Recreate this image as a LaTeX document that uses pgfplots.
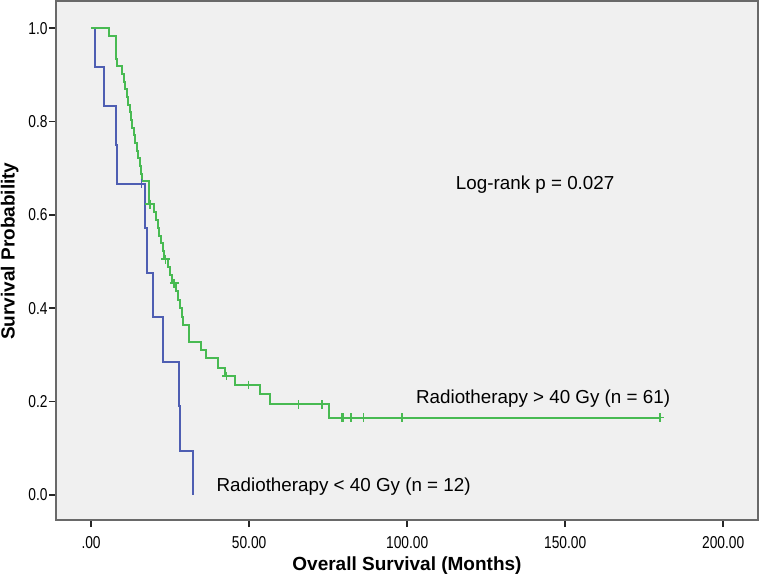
\documentclass[border=0pt]{standalone}
\usepackage{fontspec}
\setmainfont{Liberation Sans}
\newfontfamily\narrowfont[FakeStretch=0.8]{Liberation Sans}
\usepackage{pgfplots}
\pgfplotsset{compat=1.18}
\definecolor{kmblue}{RGB}{78,94,178}
\definecolor{kmgreen}{RGB}{72,186,82}
\definecolor{framegray}{RGB}{105,105,105}
\definecolor{plotbg}{RGB}{240,240,240}
\begin{document}
\begin{tikzpicture}
\path[use as bounding box] (-28pt,-27pt) rectangle (352.5pt,260pt);
\begin{axis}[
  scale only axis,
  width=351pt, height=259.5pt,
  xmin=-11.1, xmax=211, ymin=-0.0535, ymax=1.058,
  axis background/.style={fill=plotbg},
  axis line style={draw=framegray, line width=1pt},
  xtick={0,50,100,150,200},
  xticklabels={.00,50.00,100.00,150.00,200.00},
  ytick={0,0.2,0.4,0.6,0.8,1.0},
  yticklabels={0.0,0.2,0.4,0.6,0.8,1.0},
  tick align=outside,
  xtick pos=bottom, ytick pos=left,
  major tick length=3.5pt,
  tick style={draw=black!85, line width=0.8pt},
  ticklabel style={font=\narrowfont\fontsize{8.6}{10}\selectfont},
  xticklabel style={anchor=center, yshift=-8pt},
  yticklabel style={anchor=east, inner sep=0pt, xshift=-0.5pt},
  xlabel={Overall Survival (Months)},
  ylabel={Survival Probability},
  xlabel style={font=\bfseries\fontsize{9.5}{11}\selectfont, at={(axis description cs:0.5,-0.0886)}, anchor=center},
  ylabel style={font=\bfseries\fontsize{9.5}{11}\selectfont, at={(axis description cs:-0.066,0.518)}, anchor=center, rotate=0},
  clip=false,
]
% Radiotherapy < 40 Gy (n = 12)
\addplot[const plot, color=kmblue, line width=1pt, mark=none] coordinates {
(0,1) (1.3,0.9167) (4.2,0.8333) (7.8,0.75) (8.3,0.6667) (17.1,0.5714)
(17.6,0.4762) (19.5,0.3810) (22.7,0.2857) (27.9,0.1905) (28.2,0.0952)
(32.4,0) (32.4,0)
};
\addplot[only marks, mark=+, mark size=2.2pt, color=kmblue, mark options={line width=0.8pt}] coordinates {
(16.0,0.6667)
};
% Radiotherapy > 40 Gy (n = 61)
\addplot[const plot, color=kmgreen, line width=1pt, mark=none] coordinates {
(0,1) (5.7,0.9836) (7.8,0.9344) (8.2,0.9180) (9.9,0.9016)
(10.4,0.8852) (10.8,0.8689) (11.3,0.8525) (11.8,0.8361) (12.2,0.8197)
(12.7,0.8033) (13.1,0.7869) (13.6,0.7705) (14.0,0.7541) (14.5,0.7377)
(15.0,0.7213) (15.4,0.7049) (15.8,0.6885) (16.2,0.6721) (18.4,0.6230)
(20.0,0.6062) (20.6,0.5894) (21.1,0.5725) (21.6,0.5557) (22.1,0.5388)
(22.6,0.5220) (23.2,0.5052) (24.2,0.4880) (24.9,0.4708) (25.6,0.4536)
(26.9,0.4360) (27.6,0.4180) (28.2,0.4000) (28.7,0.3820) (29.2,0.3640)
(31.1,0.3283) (34.7,0.3105) (36.4,0.2927) (40.1,0.2726) (42.4,0.2548)
(45.6,0.2355) (53.5,0.2156) (56.6,0.1940) (75.4,0.1660) (180,0.1660)
};
\addplot[only marks, mark=+, mark size=2.2pt, color=kmgreen, mark options={line width=0.8pt}] coordinates {
(18.6,0.6230) (23.6,0.5052) (26.3,0.4536) (42.9,0.2548) (49.8,0.2355)
(65.6,0.1940) (73.0,0.1940) (79.3,0.1660) (79.8,0.1660) (82.3,0.1660)
(86.2,0.1660) (98.3,0.1660) (180,0.1660)
};
\node[font=\fontsize{9.4}{11}\selectfont, anchor=center] at (axis cs:140.5,0.664) {Log-rank p = 0.027};
\node[font=\fontsize{9.4}{11}\selectfont, anchor=center] at (axis cs:143,0.2056) {Radiotherapy > 40 Gy (n = 61)};
\node[font=\fontsize{9.4}{11}\selectfont, anchor=center] at (axis cs:79.9,0.017) {Radiotherapy < 40 Gy (n = 12)};
\end{axis}
\end{tikzpicture}
\end{document}
